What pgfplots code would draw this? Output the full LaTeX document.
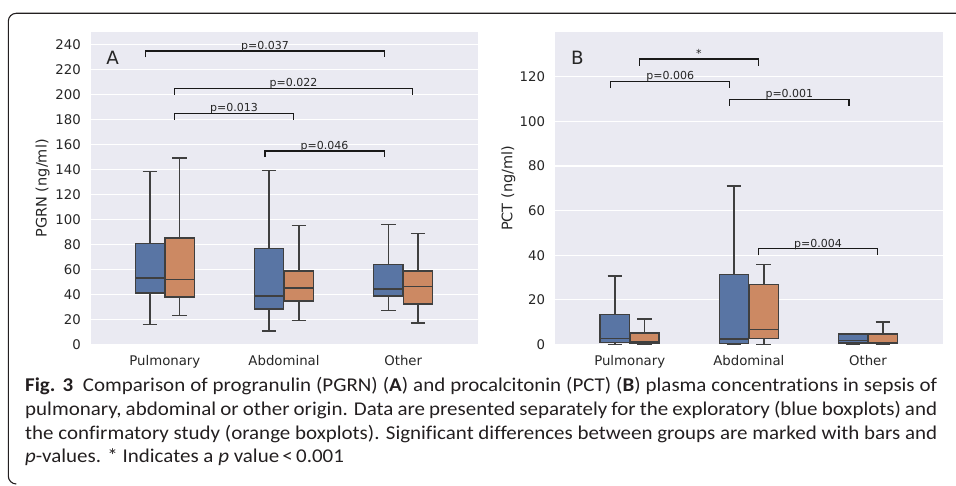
\documentclass[border=0pt]{standalone}
\usepackage{fontspec}
\usepackage{graphicx}
\usepackage{pgfplots}
\pgfplotsset{compat=1.18}
\newfontfamily\dv{DejaVu Sans}
\newfontfamily\capfont{Carlito}[FakeStretch=1.075, Ligatures=NoCommon]
\definecolor{bgc}{HTML}{EAEAF2}
\definecolor{cblue}{HTML}{5975A4}
\definecolor{corange}{HTML}{CC8963}
\definecolor{lc}{HTML}{3F3F3F}
\definecolor{tc}{HTML}{262626}
\definecolor{capc}{HTML}{231F20}
\pgfplotsset{
 sbstyle/.style={
  scale only axis, height=312.2pt,
  axis background/.style={fill=bgc},
  axis line style={draw=none},
  major tick length=0pt,
  ymajorgrids, grid style={white, line width=1.2pt},
  ymin=0,
  xtick={0,1,2}, xticklabels={Pulmonary,Abdominal,Other},
  tick label style={font=\dv\fontsize{13.3pt}{15pt}\selectfont, text=tc},
  /pgf/number format/assume math mode=true,
  yticklabel style={anchor=east, inner sep=0pt, xshift=-9.7pt},
  xticklabel style={anchor=north, inner sep=0pt, yshift=-10.3pt},
  ylabel style={font=\dv\fontsize{14.5pt}{16pt}\selectfont, text=tc, anchor=center},
  anchor=south west,
 },
 bxl/.style={draw=lc, line width=1.5pt, forget plot},
 br/.style={draw=black!90, line width=1.2pt, forget plot},
}
\tikzset{
 ptxt/.style={font=\dv\fontsize{11pt}{12pt}\selectfont, text=tc, anchor=base, yshift=1.6pt, inner sep=0pt},
 letter/.style={font=\dv\fontsize{18.3pt}{20pt}\selectfont, text=tc, anchor=base, inner sep=0pt},
}
% box: position, lower whisker, Q1, median, Q3, upper whisker, colour
\newcommand\bxp[7]{%
 \pgfmathsetmacro\xl{#1-0.1225}\pgfmathsetmacro\xr{#1+0.1225}%
 \pgfmathsetmacro\cl{#1-0.06125}\pgfmathsetmacro\cr{#1+0.06125}%
 \edef\doit{%
  \noexpand\addplot[bxl] coordinates {(#1,#2)(#1,#3)};
  \noexpand\addplot[bxl] coordinates {(#1,#5)(#1,#6)};
  \noexpand\addplot[bxl] coordinates {(\cl,#2)(\cr,#2)};
  \noexpand\addplot[bxl] coordinates {(\cl,#6)(\cr,#6)};
  \noexpand\addplot[bxl, fill=#7, line join=miter] coordinates {(\xl,#3)(\xr,#3)(\xr,#5)(\xl,#5)(\xl,#3)(\xr,#3)};
  \noexpand\addplot[bxl] coordinates {(\xl,#4)(\xr,#4)};
 }\doit}
\begin{document}
\begin{tikzpicture}
\useasboundingbox (0pt,0pt) rectangle (956pt,485pt);
% frame
\draw[capc, line width=1.1pt] (956pt,471.7pt) -- (16.3pt,471.7pt) arc[start angle=90, end angle=180, radius=8pt] -- (8.3pt,9pt) arc[start angle=180, end angle=270, radius=8pt];
% Panel A
\begin{axis}[sbstyle, at={(90.7pt,140.5pt)}, width=387pt, xmin=-0.622, xmax=2.625, ymax=250,
  ytick={0,20,...,240}, ylabel={PGRN (ng/ml)},
  ylabel style={at={(axis description cs:-0.124,0.5)}}]
\bxp{-0.125}{16}{41.1}{53.2}{81}{138.7}{cblue}
\bxp{0.125}{23.3}{38.2}{52.1}{85.3}{149.4}{corange}
\bxp{0.875}{10.7}{28.3}{39}{77}{139.5}{cblue}
\bxp{1.125}{19.2}{34.7}{45.2}{58.8}{95.2}{corange}
\bxp{1.875}{27.3}{38.7}{44.4}{63.9}{96}{cblue}
\bxp{2.125}{17.4}{32.6}{46.3}{58.8}{89}{corange}
\addplot[br] coordinates {(-0.16,230)(-0.16,235)(1.84,235)(1.84,230)};
\addplot[br] coordinates {(0.08,200)(0.08,205)(2.08,205)(2.08,200)};
\addplot[br] coordinates {(0.08,180)(0.08,185)(1.08,185)(1.08,180)};
\addplot[br] coordinates {(0.84,150)(0.84,155)(1.84,155)(1.84,150)};
\node[ptxt] at (axis cs:0.84,235) {p=0.037};
\node[ptxt] at (axis cs:1.08,205) {p=0.022};
\node[ptxt] at (axis cs:0.58,185) {p=0.013};
\node[ptxt] at (axis cs:1.34,155) {p=0.046};
\node[letter] at (axis description cs:0.0568,0.898) {A};
\end{axis}
% Panel B
\begin{axis}[sbstyle, at={(555pt,140.5pt)}, width=388.3pt, xmin=-0.627, xmax=2.632, ymax=140,
  ytick={0,20,...,120}, ylabel={PCT (ng/ml)},
  ylabel style={at={(axis description cs:-0.1203,0.5)}}]
\bxp{-0.125}{0}{0.8}{2.7}{13.5}{30.8}{cblue}
\bxp{0.125}{0}{0.4}{1.2}{5.2}{11.5}{corange}
\bxp{0.875}{0}{0.4}{2.5}{31.3}{71}{cblue}
\bxp{1.125}{0}{2.7}{6.7}{26.9}{35.9}{corange}
\bxp{1.875}{0}{0.6}{1.8}{4.6}{4.6}{cblue}
\bxp{2.125}{0}{0.4}{1.0}{4.6}{10}{corange}
\addplot[br] coordinates {(0.08,125)(0.08,128)(1.08,128)(1.08,125)};
\addplot[br] coordinates {(-0.16,115)(-0.16,118)(0.84,118)(0.84,115)};
\addplot[br] coordinates {(0.84,107)(0.84,110)(1.84,110)(1.84,107)};
\addplot[br] coordinates {(1.08,40)(1.08,43)(2.08,43)(2.08,40)};
\node[ptxt] at (axis cs:0.58,128) {*};
\node[ptxt] at (axis cs:0.34,118) {p=0.006};
\node[ptxt] at (axis cs:1.34,110) {p=0.001};
\node[ptxt] at (axis cs:1.58,43) {p=0.004};
\node[letter] at (axis description cs:0.0574,0.898) {B};
\end{axis}
% caption
\begin{scope}[every node/.style={anchor=base west, inner sep=0pt, text=capc, font=\capfont\fontsize{19.5pt}{23.5pt}\selectfont}]
\node at (25pt,93pt) {\makebox[912pt][s]{\textbf{Fig. 3}\enspace Comparison of progranulin (PGRN) (\textbf{A}) and procalcitonin (PCT) (\textbf{B}) plasma concentrations in sepsis of}};
\node at (25pt,69.5pt) {\makebox[912pt][s]{pulmonary, abdominal or other origin. Data are presented separately for the exploratory (blue boxplots) and}};
\node at (25pt,46pt) {\makebox[912pt][s]{the confirmatory study (orange boxplots). Significant differences between groups are marked with bars and}};
\node at (25pt,22.5pt) {\textit{p}-values. * Indicates a \textit{p} value\,<\,0.001};
\end{scope}
\end{tikzpicture}
\end{document}
